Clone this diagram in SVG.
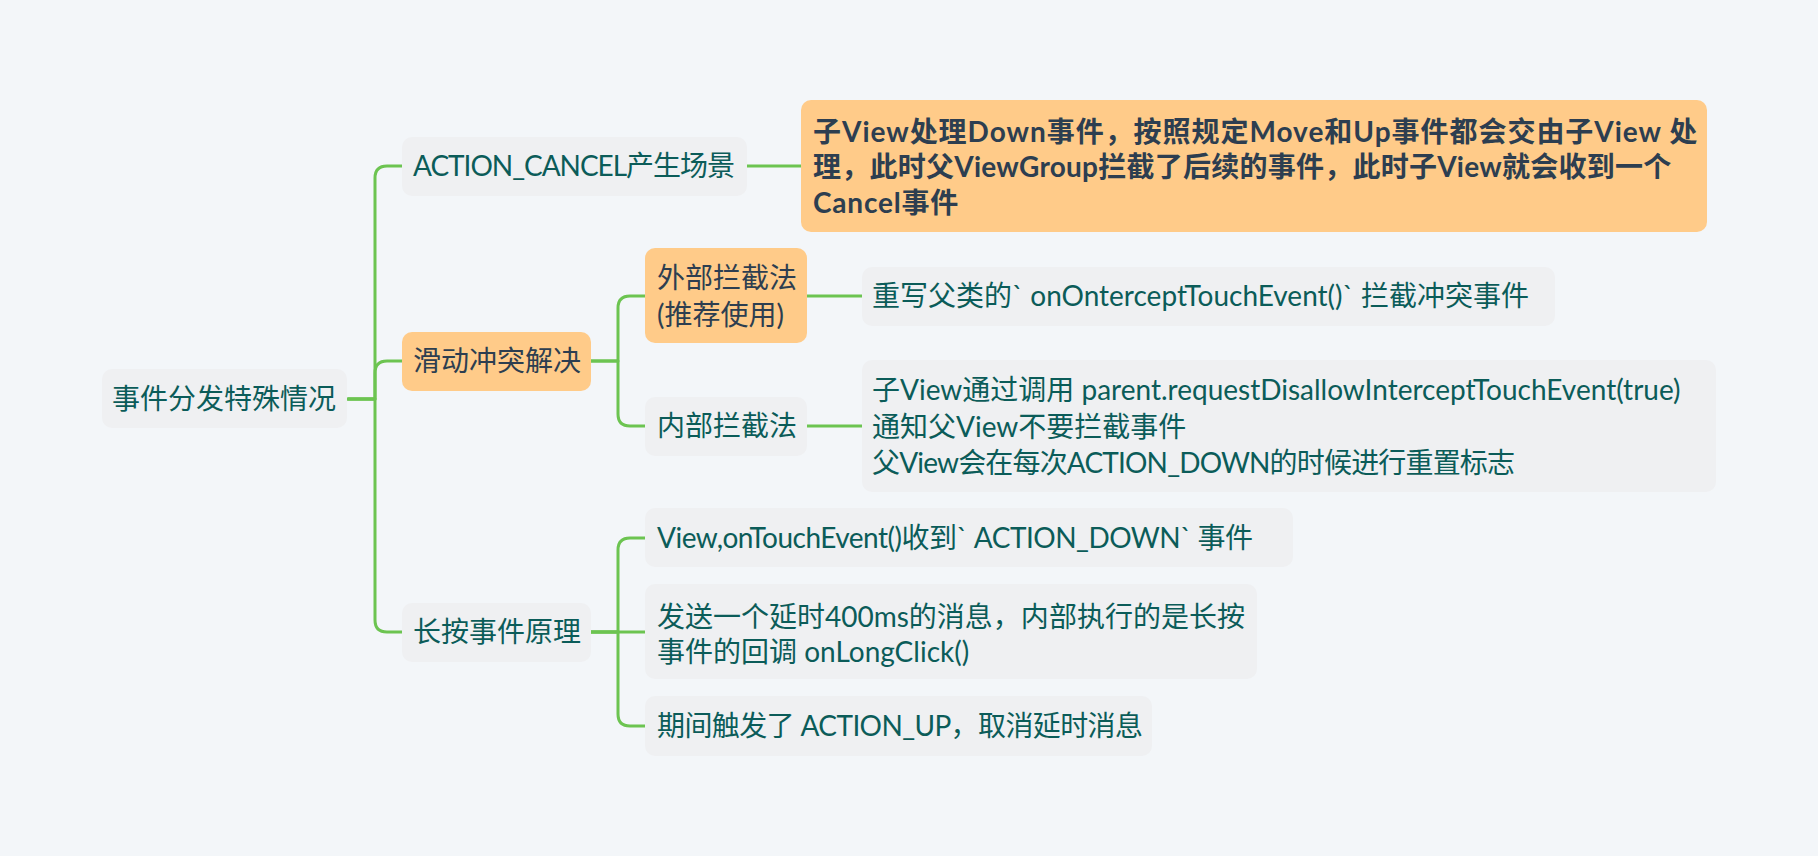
<svg xmlns="http://www.w3.org/2000/svg" width="1818" height="856" viewBox="0 0 1818 856">
<style>
.bg{fill:#f3f6f9}
.n{fill:#eff0f2}
.o{fill:#ffcb89}
.t{font-family:"Lato","Noto Sans CJK SC",sans-serif;font-size:28px;fill:#0b5c59}
.to{font-family:"Lato","Noto Sans CJK SC",sans-serif;font-size:28px;fill:#2d3e50}
.b{font-weight:bold;letter-spacing:0.8px}
.c{fill:none;stroke:#6cc451;stroke-width:3;stroke-linecap:round;stroke-linejoin:round}
</style>
<rect class="bg" x="0" y="0" width="1818" height="856"/>
<g id="connectors">
<path class="c" d="M348 399 H375 V178 Q375 166 387 166 H402"/>
<path class="c" d="M348 399 H375 V373 Q375 361 387 361 H402"/>
<path class="c" d="M348 399 H375 V620 Q375 632 387 632 H402"/>
<path class="c" d="M747 166 H801"/>
<path class="c" d="M591 361 H618 V308 Q618 296 630 296 H645"/>
<path class="c" d="M591 361 H618 V414 Q618 426 630 426 H645"/>
<path class="c" d="M807 296 H862"/>
<path class="c" d="M807 426 H862"/>
<path class="c" d="M591 632 H618 V550 Q618 538 630 538 H645"/>
<path class="c" d="M591 632 H645"/>
<path class="c" d="M591 632 H618 V714 Q618 726 630 726 H645"/>
</g>
<g id="root">
<rect class="n" x="102" y="369" width="245" height="59" rx="10"/>
<text class="t" x="112" y="409">事件分发特殊情况</text>
</g>
<g id="cancel">
<rect class="n" x="402" y="137" width="345" height="59" rx="10"/>
<text class="t" x="413" y="176" textLength="322">ACTION_CANCEL产生场景</text>
</g>
<g id="cancel-desc">
<rect class="o" x="801" y="100" width="906" height="132" rx="10"/>
<text class="to b" x="813" y="142" textLength="885">子View处理Down事件，按照规定Move和Up事件都会交由子View 处</text>
<text class="to b" x="813" y="177" textLength="859">理，此时父ViewGroup拦截了后续的事件，此时子View就会收到一个</text>
<text class="to b" x="813" y="213">Cancel事件</text>
</g>
<g id="slide">
<rect class="o" x="402" y="332" width="189" height="59" rx="10"/>
<text class="to" x="413" y="371">滑动冲突解决</text>
</g>
<g id="outer">
<rect class="o" x="645" y="248" width="162" height="95" rx="10"/>
<text class="to" x="657" y="288">外部拦截法</text>
<text class="to" x="657" y="325">(推荐使用)</text>
</g>
<g id="outer-desc">
<rect class="n" x="862" y="267" width="693" height="59" rx="10"/>
<text class="t" x="872" y="306">重写父类的` onOnterceptTouchEvent()` 拦截冲突事件</text>
</g>
<g id="inner">
<rect class="n" x="645" y="397" width="162" height="59" rx="10"/>
<text class="t" x="657" y="436">内部拦截法</text>
</g>
<g id="inner-desc">
<rect class="n" x="862" y="360" width="854" height="132" rx="10"/>
<text class="t" x="872" y="400">子View通过调用 parent.requestDisallowInterceptTouchEvent(true)</text>
<text class="t" x="872" y="437">通知父View不要拦截事件</text>
<text class="t" x="872" y="473" textLength="643">父View会在每次ACTION_DOWN的时候进行重置标志</text>
</g>
<g id="long">
<rect class="n" x="402" y="603" width="189" height="59" rx="10"/>
<text class="t" x="413" y="642">长按事件原理</text>
</g>
<g id="long-1">
<rect class="n" x="645" y="508" width="648" height="59" rx="10"/>
<text class="t" x="657" y="548" textLength="596">View,onTouchEvent()收到` ACTION_DOWN` 事件</text>
</g>
<g id="long-2">
<rect class="n" x="645" y="584" width="612" height="95" rx="10"/>
<text class="t" x="657" y="627">发送一个延时400ms的消息，内部执行的是长按</text>
<text class="t" x="657" y="662">事件的回调 onLongClick()</text>
</g>
<g id="long-3">
<rect class="n" x="645" y="696" width="507" height="60" rx="10"/>
<text class="t" x="657" y="736" textLength="486">期间触发了 ACTION_UP，取消延时消息</text>
</g>
</svg>
